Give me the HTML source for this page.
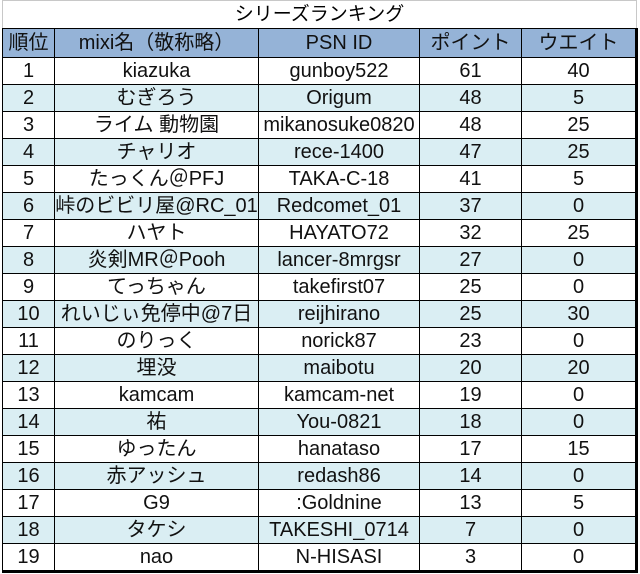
<!DOCTYPE html>
<html><head><meta charset="utf-8"><style>
body{margin:0;width:640px;height:574px;background:#fff;overflow:hidden;font-family:"Liberation Sans","Noto Sans CJK JP",sans-serif;}
.title{position:absolute;left:2px;top:0;width:633px;height:28px;border:1px solid #c8c8c8;border-bottom:none;text-align:center;font-size:19px;line-height:28px;color:#000;}
table{position:absolute;left:2px;top:28px;border-collapse:collapse;table-layout:fixed;border-right:3px solid #000;border-bottom:3px solid #000;}
td{border:1px solid #000;text-align:center;font-size:20px;padding:0;height:26px;line-height:26px;white-space:nowrap;overflow:hidden;color:#111;}
tr.h td{background:#95b3d7;height:28px;}
tr.a td{background:#daeef3;}
</style></head><body>
<div class="title">シリーズランキング</div>
<table>
<colgroup><col style="width:52px"><col style="width:204px"><col style="width:161px"><col style="width:102px"><col style="width:115px"></colgroup>
<tr class="h"><td>順位</td><td>mixi名（敬称略）</td><td>PSN ID</td><td>ポイント</td><td>ウエイト</td></tr>
<tr><td>1</td><td>kiazuka</td><td>gunboy522</td><td>61</td><td>40</td></tr>
<tr class="a"><td>2</td><td>むぎろう</td><td>Origum</td><td>48</td><td>5</td></tr>
<tr><td>3</td><td>ライム 動物園</td><td>mikanosuke0820</td><td>48</td><td>25</td></tr>
<tr class="a"><td>4</td><td>チャリオ</td><td>rece-1400</td><td>47</td><td>25</td></tr>
<tr><td>5</td><td>たっくん＠PFJ</td><td>TAKA-C-18</td><td>41</td><td>5</td></tr>
<tr class="a"><td>6</td><td>峠のビビリ屋@RC_01</td><td>Redcomet_01</td><td>37</td><td>0</td></tr>
<tr><td>7</td><td>ハヤト</td><td>HAYATO72</td><td>32</td><td>25</td></tr>
<tr class="a"><td>8</td><td>炎剣MR＠Pooh</td><td>lancer-8mrgsr</td><td>27</td><td>0</td></tr>
<tr><td>9</td><td>てっちゃん</td><td>takefirst07</td><td>25</td><td>0</td></tr>
<tr class="a"><td>10</td><td>れいじぃ免停中@7日</td><td>reijhirano</td><td>25</td><td>30</td></tr>
<tr><td>11</td><td>のりっく</td><td>norick87</td><td>23</td><td>0</td></tr>
<tr class="a"><td>12</td><td>埋没</td><td>maibotu</td><td>20</td><td>20</td></tr>
<tr><td>13</td><td>kamcam</td><td>kamcam-net</td><td>19</td><td>0</td></tr>
<tr class="a"><td>14</td><td>祐</td><td>You-0821</td><td>18</td><td>0</td></tr>
<tr><td>15</td><td>ゆったん</td><td>hanataso</td><td>17</td><td>15</td></tr>
<tr class="a"><td>16</td><td>赤アッシュ</td><td>redash86</td><td>14</td><td>0</td></tr>
<tr><td>17</td><td>G9</td><td>:Goldnine</td><td>13</td><td>5</td></tr>
<tr class="a"><td>18</td><td>タケシ</td><td>TAKESHI_0714</td><td>7</td><td>0</td></tr>
<tr><td>19</td><td>nao</td><td>N-HISASI</td><td>3</td><td>0</td></tr>
</table>
</body></html>
